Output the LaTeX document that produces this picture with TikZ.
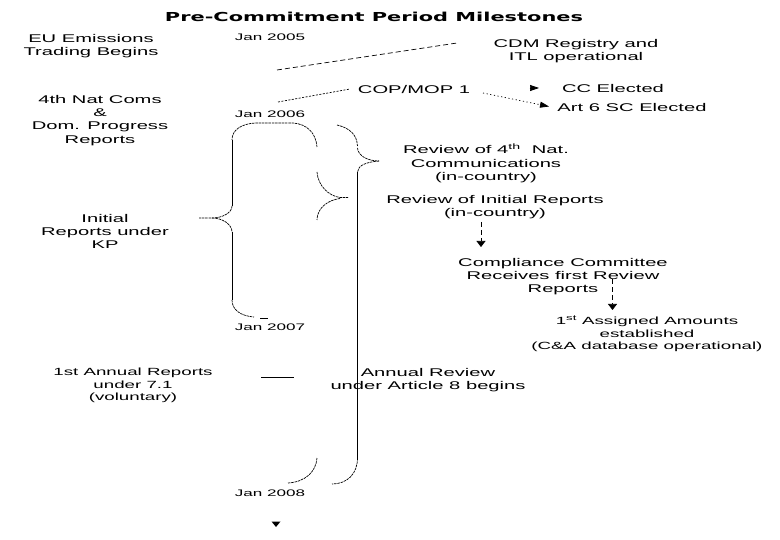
\documentclass[tikz,border=0pt]{standalone}
\usepackage{fontspec}
\usepackage{graphicx}
\usetikzlibrary{arrows.meta}
\newfontfamily\wf{Liberation Sans}[FakeStretch=1.8]
\newfontfamily\tf{DejaVu Sans}
\begin{document}
\begin{tikzpicture}[x=1pt,y=-1pt,
  txt/.style={font=\wf\fontsize{11.2}{13.3}\selectfont, inner sep=0pt, align=center},
  sml/.style={font=\wf\fontsize{10.4}{12.6}\selectfont, inner sep=0pt, align=center},
  dat/.style={font=\wf\fontsize{9.5}{11}\selectfont, inner sep=0pt},
  ln/.style={line width=0.7pt},
  crv/.style={line width=0.7pt, dash pattern=on 2.5pt off 0.8pt},
  dsh/.style={line width=0.7pt, dash pattern=on 5pt off 3pt},
  dtl/.style={line width=0.7pt, dash pattern=on 2pt off 1.5pt},
  dtt/.style={line width=0.7pt, dash pattern=on 1.2pt off 2.5pt},
  arr/.style={-{Triangle[width=6pt,length=9pt]}},
  arrd/.style={-{Triangle[width=9pt,length=6pt]}}]
\fill[white] (0,0) rectangle (780,540);
\useasboundingbox (0,0) rectangle (780,540);

% title
\node[inner sep=0pt, anchor=base] (title) at (374,22)
  {\resizebox{418pt}{9.4pt}{\tf\bfseries Pre-Commitment Period Milestones}};

% texts
\node[txt, anchor=north] (eu) at (91,34) {EU Emissions\\Trading Begins};
\node[dat, anchor=base] (j5) at (270,40.5) {Jan 2005};
\node[txt, anchor=north] (cdm) at (576,39) {CDM Registry and\\ITL operational};
\node[txt, anchor=north] (nat) at (100,95) {4th Nat Coms\\\&\\Dom. Progress\\Reports};
\node[txt, anchor=base] (cop) at (414,93.5) {COP/MOP 1};
\node[txt, anchor=base] (cc) at (613,93) {CC Elected};
\node[txt, anchor=base] (art) at (632,111.5) {Art 6 SC Elected};
\node[dat, anchor=base] (j6) at (270,118) {Jan 2006};
\node[txt, anchor=north] (rv4) at (486,144)
  {Review of 4\textsuperscript{th}\ \ Nat.\\Communications\\(in-country)};
\node[txt, anchor=north] (rvi) at (495,195) {Review of Initial Reports\\(in-country)};
\node[txt, anchor=north] (cmp) at (563,258)
  {Compliance Committee\\Receives first Review\\Reports};
\node[sml, anchor=north] (aa) at (647,316)
  {1\textsuperscript{st} Assigned Amounts\\established\\(C\&A database operational)};
\node[txt, anchor=north] (ini) at (105,214) {Initial\\Reports under\\KP};
\node[dat, anchor=base] (j7) at (270,331) {Jan 2007};
\node[sml, anchor=north] (ann) at (133,368) {1st Annual Reports\\under 7.1\\(voluntary)};
\node[txt, anchor=north] (ar) at (428,368) {Annual Review\\under Article 8 begins};
\node[dat, anchor=base] (j8) at (270,496) {Jan 2008};

% connector end points
\coordinate (d5a) at (277,70);
\coordinate (d5b) at (457,43);
\coordinate (d6a) at (278,102);
\coordinate (d6b) at (350,89);
\coordinate (ccA) at (529.5,88);
\coordinate (ccB) at (539,88);
\coordinate (artA) at (483,93);
\coordinate (artB) at (549,106.5);
\coordinate (c1a) at (481,222);
\coordinate (c1b) at (481,247);
\coordinate (c2a) at (612.5,279);
\coordinate (c2b) at (612.5,310);
\coordinate (annA) at (261,377);
\coordinate (annB) at (294,377);

% connectors
\draw[dsh] (d5a) -- (d5b);
\draw[dtl] (d6a) -- (d6b);
\draw[ln, arr] (ccA) -- (ccB);
\draw[dtt, arr] (artA) -- (artB);
\draw[dsh, arrd] (c1a) -- (c1b);
\draw[dsh, arrd] (c2a) -- (c2b);
\draw[ln] (annA) -- (annB);

% big left brace (Initial Reports) with dome top
\draw[crv] (317,147) .. controls (316,133) and (307,124) .. (293,123) -- (255,123)
  .. controls (241,124) and (232,130) .. (232,140);
\draw[ln] (232,140) -- (232,206);
\draw[crv] (232,206) .. controls (232,213) and (222,218) .. (212,218) -- (199,218);
\draw[crv] (212,218) .. controls (222,218) and (232,224) .. (232,232);
\draw[ln] (232,232) -- (232,300);
\draw[crv] (232,300) .. controls (232,310) and (241,316) .. (254,317);
\draw[ln] (260,318) -- (268,318);

% middle right brace
\draw[crv] (317,172) .. controls (318,186) and (329,196) .. (340,197.5) -- (348,197.5);
\draw[crv] (340,198.5) .. controls (328,200) and (317,208) .. (317,220);

% long right brace
\draw[crv] (337,125) .. controls (350,128) and (357,135) .. (357.5,146);
\draw[crv] (357.5,148) .. controls (358,156) and (368,161) .. (379,161);
\draw[crv] (379,161) .. controls (367,162) and (358,165) .. (357.5,172);
\draw[ln] (357.5,172) -- (357.5,458);
\draw[crv] (357.5,458) .. controls (357.5,474) and (347,484) .. (332,484);

% lower left arc
\draw[crv] (317,458) .. controls (316,472) and (305,482) .. (288,483);

% end triangle
\fill (271.5,521.5) -- (280.5,521.5) -- (276,527) -- cycle;
\end{tikzpicture}
\end{document}
